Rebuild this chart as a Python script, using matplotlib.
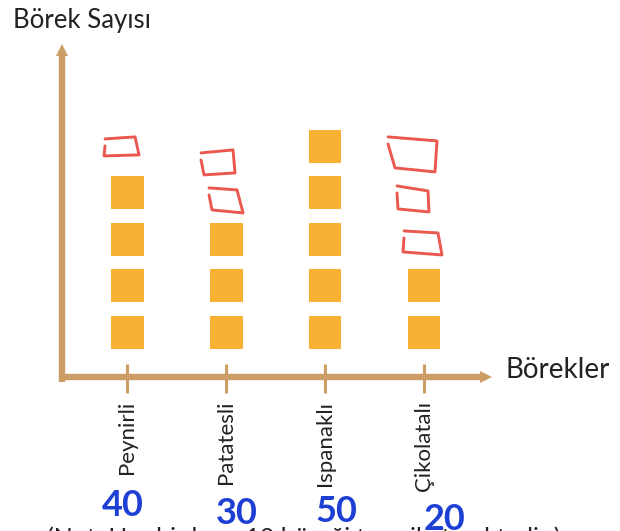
import numpy as np
import matplotlib
matplotlib.use("Agg")
import matplotlib.pyplot as plt
import matplotlib.transforms as mtransforms

# ---------------- data ----------------
categories = ["Peynirli", "Patatesli", "Ispanaklı", "Çikolatalı"]
counts = [4, 3, 5, 2]              # filled squares (1 square = 10 börek)
drawn_up_to = [5, 5, 5, 5]         # hand-drawn red squares fill each column up to this
written_values = ["40", "30", "50", "20"]   # hand-written blue numbers
title_text = "Börek Sayısı"
xlabel_text = "Börekler"
note_text = "(Not: Her bir kare 10 böreği temsil etmektedir.)"

# ---------------- style ----------------
FONT = ["Lato", "DejaVu Sans"]
AXIS_COLOR = "#CC9E66"
SQUARE_COLOR = "#F8B133"
RED = "#E8463D"
BLUE = "#1E3FD4"
W, H = 620, 531

fig = plt.figure(figsize=(W / 100, H / 100), dpi=100)
# axes: left edge at the y-axis line, bottom at the x-axis line
ax = fig.add_axes([62 / W, (H - 379) / H, (492 - 62) / W, (379 - 45) / H])
ax.set_xlim(-0.657, 3.687)
ax.set_ylim(0, 7.18)
ax.axis("off")

x = np.arange(len(categories))

# filled squares
sq_w, sq_h = 0.333, 0.71
for i, n in enumerate(counts):
    for k in range(1, n + 1):
        ax.bar(i, sq_h, bottom=k - sq_h / 2, width=sq_w, color=SQUARE_COLOR,
               edgecolor="none", zorder=2)

# hand-drawn red squares (corner wobble offsets in pixels: TL, TR, BR, BL)
wobble = {
    (0, 5): [(-21, -3.5), (8, -9.5), (12, 8.5), (-23, 9.5)],
    (1, 5): [(-24, 10.5), (7, 3.5), (9, 26.5), (-22, 28.5)],
    (1, 4): [(-16, -1), (11, -3), (17, 20), (-14, 17)],
    (3, 5): [(-35, -5.5), (13, -5.5), (11, 25.5), (-29, 21.5)],
    (3, 4): [(-26, -3), (4, -2), (5, 19), (-26, 16)],
    (3, 3): [(-19, -4.5), (14, -6.5), (18, 15.5), (-21, 12.5)],
}
p0 = ax.transData.transform((0, 0))
p1 = ax.transData.transform((1, 1))
ux, uy = p1[0] - p0[0], p1[1] - p0[1]
for i, (n, top) in enumerate(zip(counts, drawn_up_to)):
    for k in range(n + 1, top + 1):
        c = wobble.get((i, k), [(-16, -16), (16, -16), (16, 16), (-16, 16)])
        tl, tr, br, bl = c
        pts = [(tl[0] - 1, tl[1] - 4), tr, br, bl, (tl[0] - 1, tl[1] + 3)]
        xs = [i + dx / ux for dx, dy in pts]
        ys = [k - dy / uy for dx, dy in pts]
        ax.plot(xs, ys, color=RED, lw=2.1, solid_joinstyle="round",
                solid_capstyle="round", zorder=3, clip_on=False, alpha=0.9)

# axes lines with arrows
ax.plot([0, 0], [-0.009, 0.985], transform=ax.transAxes, color=AXIS_COLOR,
        lw=4.6, clip_on=False, solid_capstyle="butt", zorder=1)
ax.plot([0], [0.985], transform=ax.transAxes, marker="^", ms=9, color=AXIS_COLOR,
        clip_on=False, markeredgewidth=0)
ax.plot([-0.0075, 0.985], [0.006, 0.006], transform=ax.transAxes, color=AXIS_COLOR,
        lw=4.6, clip_on=False, solid_capstyle="butt", zorder=1)
ax.plot([0.985], [0.006], transform=ax.transAxes, marker=">", ms=9, color=AXIS_COLOR,
        clip_on=False, markeredgewidth=0)

# ticks
ax.vlines(x, -0.30, 0.32, color=AXIS_COLOR, lw=2.2, clip_on=False, zorder=1)

# category labels (rotated)
for i, c in enumerate(categories):
    ax.text(i, -0.47, c, rotation=90, ha="center", va="top", fontsize=16,
            family=FONT, color="#222222")

# hand-written blue numbers
blend = mtransforms.blended_transform_factory(ax.transData, fig.transFigure)
num_dx = [-0.04, 0.11, 0.11, 0.21]
num_y = [505, 513, 512, 520]
for i, (v, dx, yy) in enumerate(zip(written_values, num_dx, num_y)):
    ax.text(i + dx, (H - yy) / H, v, transform=blend, ha="center", va="center",
            fontsize=26, fontweight="bold", color=BLUE, family=FONT, clip_on=False,
            zorder=5)

# titles
fig.text(13 / W, (H - 28) / H, title_text, ha="left", va="baseline",
         fontsize=18.5, family=FONT, color="#222222")
fig.text(505 / W, (H - 378) / H, xlabel_text, ha="left", va="baseline",
         fontsize=20, family=FONT, color="#222222")
# note (cut off at the bottom edge)
fig.text(47 / W, (H - 546) / H, note_text, ha="left", va="baseline",
         fontsize=18, family=FONT, color="#222222")

fig.savefig("out.png", dpi=100)
